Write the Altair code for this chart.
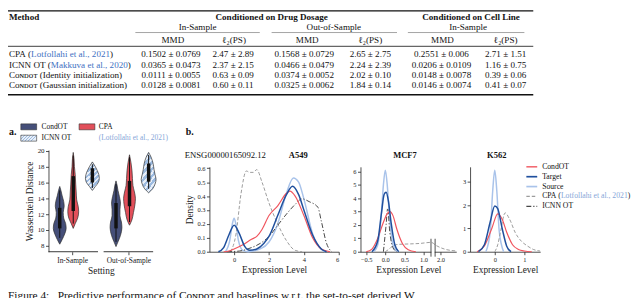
import altair as alt
import pandas as pd

SERIF = "Liberation Serif, DejaVu Serif, serif"
OX, OY = 8, 8          # page margin -> chart coords
W, H = 632, 290

# ---------------- table values ----------------
tbl_mmd_in = ["0.1502 ± 0.0769", "0.0365 ± 0.0473", "0.0111 ± 0.0055", "0.0128 ± 0.0081"]
tbl_l2_in = ["2.47 ± 2.89", "2.37 ± 2.15", "0.63 ± 0.09", "0.60 ± 0.11"]
tbl_mmd_out = ["0.1568 ± 0.0729", "0.0466 ± 0.0479", "0.0374 ± 0.0052", "0.0325 ± 0.0062"]
tbl_l2_out = ["2.65 ± 2.75", "2.24 ± 2.39", "2.02 ± 0.10", "1.84 ± 0.14"]
tbl_mmd_cell = ["0.2551 ± 0.006", "0.0206 ± 0.0109", "0.0148 ± 0.0078", "0.0146 ± 0.0074"]
tbl_l2_cell = ["2.71 ± 1.51", "1.16 ± 0.75", "0.39 ± 0.06", "0.41 ± 0.07"]
# method labels: (text, is_citation) pieces
tbl_methods = [
    [("CPA (", False), ("Lotfollahi et al., 2021", True), (")", False)],
    [("ICNN OT (", False), ("Makkuva et al., 2020", True), (")", False)],
    [("Cᴏɴᴅᴏᴛ (Identity initialization)", False)],
    [("Cᴏɴᴅᴏᴛ (Gaussian initialization)", False)],
]
tbl_groups = ["Conditioned on Drug Dosage", "Conditioned on Cell Line"]
tbl_samples = ["In-Sample", "Out-of-Sample", "In-Sample"]
tbl_metrics = ["MMD", "ℓ₂(PS)", "MMD", "ℓ₂(PS)", "MMD", "ℓ₂(PS)"]

# ---------------- violin values (Wasserstein distance, half width) ----------------
settings = ["In-Sample", "Out-of-Sample"]
violin_methods = ["CondOT", "CPA", "ICNN OT"]
in_condot_w = [8.2, 8.8, 9.5, 10.2, 10.8, 11.5, 12.2, 13.0, 13.6, 14.3, 15.0, 15.5]
in_condot_hw = [0, 2.5, 5, 6.5, 6, 4, 3.5, 4.5, 4, 2.5, 1.2, 0]
in_cpa_w = [10.2, 10.8, 11.5, 12.3, 13.0, 13.8, 14.8, 15.8, 17.0, 18.0, 19.0, 19.8]
in_cpa_hw = [0, 2, 4.5, 5.5, 5, 3.5, 3, 2.5, 2, 1.2, 0.8, 0]
in_icnn_w = [15.0, 15.5, 16.0, 16.5, 17.0, 17.5, 18.0, 18.6]
in_icnn_hw = [0, 3, 6, 7, 6.5, 5, 3, 0]
out_condot_w = [7.9, 8.5, 9.3, 10.3, 11.0, 11.8, 12.6, 13.4, 14.2, 15.0, 15.7, 16.2]
out_condot_hw = [0, 2, 4.5, 6, 5.5, 4, 4, 4.5, 3.5, 2, 1, 0]
out_cpa_w = [10.6, 11.3, 12.2, 13.2, 14.0, 14.8, 15.6, 16.5, 17.5, 18.5, 19.5]
out_cpa_hw = [0, 2.5, 4, 5.5, 6, 5, 3.5, 3, 2.5, 1.5, 0]
out_icnn_w = [14.7, 15.2, 15.8, 16.4, 17.0, 17.6, 18.4, 19.2, 19.8]
out_icnn_hw = [0, 4, 6.5, 7.5, 6.5, 5.5, 4.5, 2.5, 0]
# whisker low, q1, q3, whisker high
in_condot_box = [9.0, 10.2, 12.8, 15.0]
in_cpa_box = [10.8, 12.4, 16.8, 19.4]
in_icnn_box = [15.3, 16.0, 17.8, 18.3]
out_condot_box = [8.5, 10.2, 13.4, 15.8]
out_cpa_box = [11.0, 13.0, 16.2, 19.2]
out_icnn_box = [15.2, 16.1, 18.4, 19.5]

# ---------------- density curves ----------------
a549_target_x = [-0.9, -0.6, -0.3, 0.0, 0.3, 0.6, 0.9, 1.3, 1.7, 2.0, 2.5, 3.0, 3.35, 3.7, 4.0, 4.5, 5.0, 5.3]
a549_target_y = [0, 0.03, 0.12, 0.19, 0.13, 0.04, 0.01, 0.02, 0.06, 0.11, 0.26, 0.41, 0.47, 0.41, 0.3, 0.12, 0.02, 0]
a549_source_x = [-0.5, -0.25, -0.1, 0.0, 0.1, 0.25, 0.5, 0.8, 1.5, 2.0, 2.5, 3.0, 3.4, 3.7, 4.0, 4.5, 4.9, 5.2]
a549_source_y = [0, 0.08, 0.2, 0.24, 0.2, 0.08, 0.01, 0.0, 0.02, 0.07, 0.2, 0.42, 0.53, 0.5, 0.38, 0.13, 0.03, 0]
a549_condot_x = [-0.6, -0.3, 0.0, 0.5, 1.0, 1.3, 1.6, 2.0, 2.5, 3.0, 3.2, 3.5, 4.0, 4.5, 5.0, 5.5]
a549_condot_y = [0, 0.005, 0.02, 0.05, 0.09, 0.11, 0.16, 0.26, 0.33, 0.42, 0.435, 0.4, 0.26, 0.1, 0.02, 0]
a549_cpa_x = [-0.2, 0.1, 0.4, 0.7, 0.9, 1.1, 1.3, 1.6, 2.0, 2.5, 3.0, 3.5, 3.9]
a549_cpa_y = [0, 0.12, 0.42, 0.58, 0.57, 0.57, 0.59, 0.5, 0.35, 0.2, 0.08, 0.01, 0]
a549_icnn_x = [-0.4, 0.3, 1.0, 1.5, 2.0, 2.5, 3.0, 3.5, 3.9, 4.3, 4.8, 5.0, 5.3, 5.6]
a549_icnn_y = [0, 0.005, 0.03, 0.06, 0.11, 0.19, 0.27, 0.34, 0.38, 0.36, 0.32, 0.22, 0.06, 0]

mcf7_source_x = [-0.3, -0.2, -0.1, -0.05, 0.0, 0.05, 0.1, 0.2, 0.3]
mcf7_source_y = [0, 0.5, 3.0, 5.0, 6.1, 5.0, 3.0, 0.5, 0]
mcf7_target_x = [-0.35, -0.2, -0.1, -0.03, 0.02, 0.08, 0.15, 0.25, 0.35]
mcf7_target_y = [0, 0.8, 2.9, 4.3, 4.45, 3.8, 2.2, 0.5, 0]
mcf7_condot_x = [-0.5, -0.35, -0.2, -0.05, 0.05, 0.12, 0.2, 0.3, 0.45, 0.6, 0.8]
mcf7_condot_y = [0, 0.2, 1.0, 2.2, 2.85, 3.0, 2.7, 1.7, 0.6, 0.15, 0]
mcf7_cpa_x = [0.0, 0.1, 0.2, 0.35, 0.6, 0.9, 1.2, 1.9, 2.1, 2.4]
mcf7_cpa_y = [0, 0.2, 0.45, 0.55, 0.58, 0.62, 0.7, 0.45, 0.2, 0.06]
mcf7_icnn_x = [-0.05, 0.02, 0.06, 0.12, 0.2, 0.3]
mcf7_icnn_y = [0, 2.0, 3.2, 1.4, 0.3, 0]

k562_source_x = [-0.3, -0.15, -0.07, 0.0, 0.07, 0.15, 0.3]
k562_source_y = [0, 0.9, 2.6, 3.5, 2.6, 0.9, 0]
k562_target_x = [-0.55, -0.35, -0.15, 0.0, 0.1, 0.25, 0.4, 0.55]
k562_target_y = [0, 0.3, 1.3, 1.97, 1.85, 1.0, 0.25, 0]
k562_condot_x = [-0.6, -0.35, -0.1, 0.1, 0.25, 0.4, 0.6, 0.8, 1.0, 1.25]
k562_condot_y = [0, 0.25, 1.0, 1.63, 1.4, 0.85, 0.3, 0.1, 0.03, 0]
k562_cpa_x = [0.0, 0.1, 0.2, 0.35, 0.5, 0.7, 0.9, 1.1, 1.3, 1.53]
k562_cpa_y = [0, 0.3, 0.9, 1.67, 1.4, 0.8, 0.45, 0.25, 0.1, 0.03]

legend_series = ["CondOT", "Target", "Source", "CPA", "ICNN OT"]
legend_labels = [
    [("CondOT", False)], [("Target", False)], [("Source", False)],
    [("CPA (", False), ("Lotfollahi et al., 2021", True), (")", False)],
    [("ICNN OT", False)],
]

caption = "Figure 4:   Predictive performance of Cᴏɴᴅᴏᴛ and baselines w.r.t. the set-to-set derived W"

# ---------------- styles ----------------
BLACK = "#111111"
BLUE_CITE = "#4170c2"
LIGHT_CITE = "#86a6d8"
NAVY = "#454f79"
RED = "#e24f5a"
STYLE = {
    "CondOT": dict(c="#f0555e", w=1.2, d=None),
    "Target": dict(c="#1f4f9d", w=1.5, d=None),
    "Source": dict(c="#a9c3ea", w=1.5, d=None),
    "CPA": dict(c="#9c9c9c", w=1.0, d=[3.5, 2]),
    "ICNN OT": dict(c="#474747", w=1.0, d=[5, 2, 1.2, 2]),
}

# Times / Liberation Serif advance widths (1/1000 em), used to place coloured pieces
TW = {' ': 250, '(': 333, ')': 333, ',': 250, '.': 250, '-': 333, ':': 278}
TW.update({d: 500 for d in "0123456789"})
TW.update(dict(zip("ABCDEFGHIJKLMNOPQRSTUVWXYZ",
                   [722, 667, 667, 722, 611, 556, 722, 722, 333, 389, 722, 611, 889, 722, 722, 556, 722, 667, 556, 611, 722, 722, 944, 722, 722, 611])))
TW.update(dict(zip("abcdefghijklmnopqrstuvwxyz",
                   [444, 500, 444, 500, 444, 333, 500, 500, 278, 278, 500, 278, 778, 500, 500, 500, 500, 333, 389, 278, 500, 500, 722, 500, 500, 444])))
KERN = {"PA": -92}


def tw(s, size):
    w = sum(TW.get(ch, 500) for ch in s)
    w += sum(KERN.get(s[i:i + 2], 0) for i in range(len(s) - 1))
    return w / 1000.0 * size


texts = {}


def add(x, y, t, size, color=BLACK, align="left", weight="normal", baseline="middle"):
    texts.setdefault((align, weight, baseline), []).append(
        dict(x=x - OX, y=y - OY, t=t.replace(" ", "\u00a0"), s=size, c=color))


def add_parts(x, y, parts, size, cite_color):
    for t, cited in parts:
        add(x, y, t, size, cite_color if cited else BLACK)
        x += tw(t, size)


# ---------------- table ----------------
FS = 9.2
add(9, 15, "Method", FS, weight="bold")
add(275, 15, tbl_groups[0], FS, align="center", weight="bold")
add(477, 15, tbl_groups[1], FS, align="center", weight="bold")
for cx, t in zip([200, 338, 474], tbl_samples):
    add(cx, 25, t, FS, align="center")
col_cx = [175, 237, 311, 375, 448, 512]
for cx, t in zip(col_cx, tbl_metrics):
    add(cx, 38.5, t, FS, align="center")
row_y = [53, 63.5, 74, 84.5]
val_cx = [173, 236, 308, 375, 447, 512]
cols = [tbl_mmd_in, tbl_l2_in, tbl_mmd_out, tbl_l2_out, tbl_mmd_cell, tbl_l2_cell]
for i, ry in enumerate(row_y):
    add_parts(9, ry, tbl_methods[i], FS, BLUE_CITE)
    for cx, col in zip(val_cx, cols):
        add(cx, ry, col[i], FS, align="center")

rules_df = pd.DataFrame([
    dict(x=8, x2=540, y=9, sw=1.3, c="#111"),
    dict(x=137, x2=263, y=31, sw=0.6, c="#666"),
    dict(x=275, x2=402, y=31, sw=0.6, c="#666"),
    dict(x=413, x2=531, y=31, sw=0.6, c="#666"),
    dict(x=8, x2=540, y=45, sw=1.3, c="#666"),
    dict(x=8, x2=540, y=94, sw=1.3, c="#111"),
])
rules_df[["x", "x2"]] -= OX
rules_df["y"] -= OY
table_rules = alt.Chart(rules_df).mark_rule().encode(
    x=alt.X("x:Q", scale=None, axis=None), x2="x2:Q",
    y=alt.Y("y:Q", scale=None, axis=None),
    strokeWidth=alt.StrokeWidth("sw:Q", scale=None),
    color=alt.Color("c:N", scale=None),
)

# ---------------- panel labels / titles / legends text ----------------
add(9, 132, "a.", 10, weight="bold")
add(188, 132, "b.", 10, weight="bold")
add(187, 155, "ENSG00000165092.12", 8.8)
add(302, 155, "A549", 8.6, align="center", weight="bold")
add(410, 155, "MCF7", 8.6, align="center", weight="bold")
add(503, 155, "K562", 8.6, align="center", weight="bold")
# violin legend
VL_FS = 7.5
add(42, 126.5, violin_methods[0], VL_FS)
add(42, 138, violin_methods[2], VL_FS)
add(100, 126.5, violin_methods[1], VL_FS)
add(100, 138, "(Lotfollahi et al., 2021)", VL_FS, color=LIGHT_CITE)
# density legend
leg_y = [167, 177, 187, 197, 207]
for parts, ly in zip(legend_labels, leg_y):
    add_parts(549, ly, parts, 7.8, LIGHT_CITE)
# caption (cut by the window)
add(8, 300.5, caption, 11.5, baseline="alphabetic")

text_layers = []
for (align, weight, baseline), recs in texts.items():
    text_layers.append(
        alt.Chart(pd.DataFrame(recs)).mark_text(align=align, baseline=baseline, font=SERIF, fontWeight=weight).encode(
            x=alt.X("x:Q", scale=None, axis=None),
            y=alt.Y("y:Q", scale=None, axis=None),
            text="t:N",
            size=alt.Size("s:Q", scale=None),
            color=alt.Color("c:N", scale=None),
        )
    )


def stripes(n, y2, base, light, frac=0.55):
    stops = []
    for i in range(n):
        a, b, c = i / n, (i + frac) / n, (i + 1) / n
        stops += [alt.GradientStop(offset=a, color=base), alt.GradientStop(offset=b, color=base),
                  alt.GradientStop(offset=b, color=light), alt.GradientStop(offset=c, color=light)]
    return alt.LinearGradient(gradient="linear", stops=stops, x1=0, y1=0, x2=1, y2=y2)


HATCH_BASE, HATCH_LIGHT = "#9dbbe0", "#e8eff9"

# violin legend swatches
sw_df = pd.DataFrame([
    dict(x=21, x2=37, y=123.5, y2=129.5, c=NAVY),
    dict(x=80, x2=96, y=123.5, y2=129.5, c=RED),
])
sw_df[["x", "x2"]] -= OX
sw_df[["y", "y2"]] -= OY
swatches = alt.Chart(sw_df).mark_rect(stroke="#333", strokeWidth=0.6).encode(
    x=alt.X("x:Q", scale=None, axis=None), x2="x2:Q",
    y=alt.Y("y:Q", scale=None, axis=None), y2="y2:Q",
    color=alt.Color("c:N", scale=None),
)
sw_hatch = alt.Chart(pd.DataFrame([dict(x=21 - OX, x2=37 - OX, y=135 - OY, y2=141 - OY)])).mark_rect(
    fill=stripes(6, 0.375, HATCH_BASE, HATCH_LIGHT), stroke="#333", strokeWidth=0.6).encode(
    x=alt.X("x:Q", scale=None, axis=None), x2="x2:Q",
    y=alt.Y("y:Q", scale=None, axis=None), y2="y2:Q",
)

# density legend lines
legend_lines = []
for name, ly in zip(legend_series, leg_y):
    st = STYLE[name]
    kw = dict(color=st["c"], strokeWidth=st["w"] + 0.2)
    if st["d"]:
        kw["strokeDash"] = st["d"]
    legend_lines.append(
        alt.Chart(pd.DataFrame([dict(x=533 - OX, x2=544 - OX, y=ly - OY)])).mark_rule(**kw).encode(
            x=alt.X("x:Q", scale=None, axis=None), x2="x2:Q", y=alt.Y("y:Q", scale=None, axis=None))
    )

# ---------------- violin panel ----------------
V_PX_PER_UNIT = 57.0
v_offsets = {"CondOT": -0.22, "CPA": 0.02, "ICNN OT": 0.36}
shapes = {
    ("In-Sample", "CondOT"): (in_condot_w, in_condot_hw, in_condot_box),
    ("In-Sample", "CPA"): (in_cpa_w, in_cpa_hw, in_cpa_box),
    ("In-Sample", "ICNN OT"): (in_icnn_w, in_icnn_hw, in_icnn_box),
    ("Out-of-Sample", "CondOT"): (out_condot_w, out_condot_hw, out_condot_box),
    ("Out-of-Sample", "CPA"): (out_cpa_w, out_cpa_hw, out_cpa_box),
    ("Out-of-Sample", "ICNN OT"): (out_icnn_w, out_icnn_hw, out_icnn_box),
}
vrows, brows = [], []
for (s, m), (ws, hws, box) in shapes.items():
    cx = settings.index(s) + v_offsets[m]
    for w, hw in zip(ws, hws):
        vrows.append(dict(vid=f"{s}|{m}", method=m, w=w, lo=cx - hw / V_PX_PER_UNIT, hi=cx + hw / V_PX_PER_UNIT))
    brows.append(dict(vid=f"{s}|{m}", cx=cx, wlo=box[0], q1=box[1], q3=box[2], whi=box[3]))
vdf = pd.DataFrame(vrows)
bdf = pd.DataFrame(brows)

vx = alt.Scale(domain=[-0.42, 1.44], range=[49 - OX, 155 - OX], nice=False, zero=False)
vy = alt.Scale(domain=[7.25, 20.1], range=[253 - OY, 150 - OY], nice=False, zero=False)
vx_axis = alt.Axis(orient="bottom", offset=(253 - OY) - H, values=[0, 1],
                   labelExpr="datum.value == 0 ? '%s' : '%s'" % (settings[0], settings[1]),
                   domain=False, title="Setting", titleFontSize=9.5, labelFontSize=7.5, tickSize=3,
                   labelPadding=2, titlePadding=2)
vy_axis = alt.Axis(orient="left", offset=-(49 - OX), values=list(range(8, 21, 2)), title="Wasserstein Distance",
                   titleFontSize=9.5, labelFontSize=7, tickSize=3, labelPadding=1.5, titlePadding=3)

v_solid = alt.Chart(vdf[vdf.method != "ICNN OT"]).mark_area(
    orient="horizontal", interpolate="monotone", stroke="#2e2e2e", strokeWidth=0.7).encode(
    y=alt.Y("w:Q", scale=vy, axis=vy_axis),
    x=alt.X("lo:Q", scale=vx, axis=vx_axis), x2="hi:Q",
    color=alt.Color("method:N", scale=alt.Scale(domain=["CondOT", "CPA"], range=[NAVY, RED]), legend=None),
    detail="vid:N",
)
v_hatch = alt.Chart(vdf[vdf.method == "ICNN OT"]).mark_area(
    orient="horizontal", interpolate="monotone", fill=stripes(16, 2.3, HATCH_BASE, HATCH_LIGHT),
    stroke="#2e2e2e", strokeWidth=0.7).encode(
    y=alt.Y("w:Q", scale=vy, axis=vy_axis),
    x=alt.X("lo:Q", scale=vx, axis=vx_axis), x2="hi:Q",
    detail="vid:N",
)
v_whisk = alt.Chart(bdf).mark_rule(color="#111", strokeWidth=1).encode(
    x=alt.X("cx:Q", scale=vx, axis=vx_axis), y=alt.Y("wlo:Q", scale=vy, axis=vy_axis), y2="whi:Q")
v_box = alt.Chart(bdf).mark_rule(color="#111", strokeWidth=3.5).encode(
    x=alt.X("cx:Q", scale=vx, axis=vx_axis), y=alt.Y("q1:Q", scale=vy, axis=vy_axis), y2="q3:Q")
seg_df = pd.DataFrame(dict(a=[-0.42, 0.56], b=[0.46, 1.44], y=[7.25, 7.25]))
v_segs = alt.Chart(seg_df).mark_rule(color="#222", strokeWidth=0.9).encode(
    x=alt.X("a:Q", scale=vx, axis=vx_axis), x2="b:Q", y=alt.Y("y:Q", scale=vy, axis=vy_axis))
violin_panel = alt.layer(v_solid, v_hatch, v_whisk, v_box, v_segs)


# ---------------- density panels ----------------
def panel(series, xs, ys, xaxis, yaxis, extra=()):
    layers = []
    for name, xv, yv in series:
        st = STYLE[name]
        kw = dict(color=st["c"], strokeWidth=st["w"], interpolate="monotone")
        if st["d"]:
            kw["strokeDash"] = st["d"]
        layers.append(alt.Chart(pd.DataFrame({"x": xv, "y": yv})).mark_line(**kw).encode(
            x=alt.X("x:Q", scale=xs, axis=xaxis), y=alt.Y("y:Q", scale=ys, axis=yaxis)))
    for e in extra:
        layers.append(e(xs, ys, xaxis, yaxis))
    return alt.layer(*layers)


def xaxis(values, fmt, title=None):
    kw = dict(orient="bottom", offset=(253 - OY) - H, values=values, format=fmt, labelFontSize=6.5,
              tickSize=3, labelPadding=2, titlePadding=2, titleFontSize=9.5)
    kw["title"] = title if title else None
    return alt.Axis(**kw)


def yaxis(x_at, values, fmt, title=None):
    kw = dict(orient="left", offset=-(x_at - OX), values=values, format=fmt, labelFontSize=6.5,
              tickSize=3, labelPadding=1.5, titlePadding=3, titleFontSize=9.5)
    kw["title"] = title if title else None
    return alt.Axis(**kw)


a_xs = alt.Scale(domain=[-1.415, 6], range=[212 - OX, 343 - OX], nice=False, zero=False)
a_ys = alt.Scale(domain=[0, 0.61], range=[253 - OY, 167 - OY], nice=False, zero=False)
a549 = panel([
    ("Source", a549_source_x, a549_source_y),
    ("CPA", a549_cpa_x, a549_cpa_y),
    ("ICNN OT", a549_icnn_x, a549_icnn_y),
    ("CondOT", a549_condot_x, a549_condot_y),
    ("Target", a549_target_x, a549_target_y),
], a_xs, a_ys, xaxis([0, 2, 4, 6], "d", "Expression Level"),
    yaxis(212, [0, 0.1, 0.2, 0.3, 0.4, 0.5, 0.6], ".1f", "Density"))

m_xs = alt.Scale(domain=[-0.65, 1.21, 1.85, 2.4], range=[365 - OX, 437 - OX, 440 - OX, 462 - OX],
                 nice=False, zero=False)
m_ys = alt.Scale(domain=[0, 6.35], range=[253 - OY, 167 - OY], nice=False, zero=False)


def mcf7_break(xs, ys, xa, ya):
    bdf2 = pd.DataFrame(dict(x=[1.195, 1.865], y=[-0.37, -0.37], y2=[0.97, 0.97]))
    return alt.Chart(bdf2).mark_rule(color="#222", strokeWidth=0.8).encode(
        x=alt.X("x:Q", scale=xs, axis=xa), y=alt.Y("y:Q", scale=ys, axis=ya), y2="y2:Q")


def mcf7_gap(xs, ys, xa, ya):
    gdf = pd.DataFrame(dict(x=[1.205], x2=[1.855], y=[-0.12], y2=[0.12]))
    return alt.Chart(gdf).mark_rect(color="white").encode(
        x=alt.X("x:Q", scale=xs, axis=xa), x2="x2:Q", y=alt.Y("y:Q", scale=ys, axis=ya), y2="y2:Q")


mcf7 = panel([
    ("Source", mcf7_source_x, mcf7_source_y),
    ("CPA", mcf7_cpa_x, mcf7_cpa_y),
    ("ICNN OT", mcf7_icnn_x, mcf7_icnn_y),
    ("CondOT", mcf7_condot_x, mcf7_condot_y),
    ("Target", mcf7_target_x, mcf7_target_y),
], m_xs, m_ys, xaxis([-0.5, 0, 0.5, 1.0, 2.0], ".1f", "Expression Level"),
    yaxis(365, [0, 1, 2, 3, 4, 5, 6], "d"), extra=(mcf7_gap, mcf7_break))

k_xs = alt.Scale(domain=[-0.833, 1.533], range=[476 - OX, 547 - OX], nice=False, zero=False)
k_ys = alt.Scale(domain=[0, 3.65], range=[253 - OY, 167 - OY], nice=False, zero=False)
k562 = panel([
    ("Source", k562_source_x, k562_source_y),
    ("CPA", k562_cpa_x, k562_cpa_y),
    ("CondOT", k562_condot_x, k562_condot_y),
    ("Target", k562_target_x, k562_target_y),
], k_xs, k_ys, xaxis([0, 1], "d", "Expression Level"), yaxis(476, [0, 1, 2, 3], "d"))

chart = alt.layer(
    table_rules, swatches, sw_hatch, *legend_lines, violin_panel, a549, mcf7, k562, *text_layers
).resolve_scale(
    x="independent", y="independent", color="independent"
).properties(
    width=W, height=H, padding=0, autosize=alt.AutoSizeParams(type="none")
).configure_view(stroke=None).configure_axis(
    labelFont=SERIF, titleFont=SERIF, titleFontWeight="normal", grid=False,
    domainColor="#222", tickColor="#222", labelColor="#222", titleColor="#222",
    domainWidth=0.8, tickWidth=0.8,
)

chart.save("out.html", embed_options={"renderer": "svg", "actions": False})
